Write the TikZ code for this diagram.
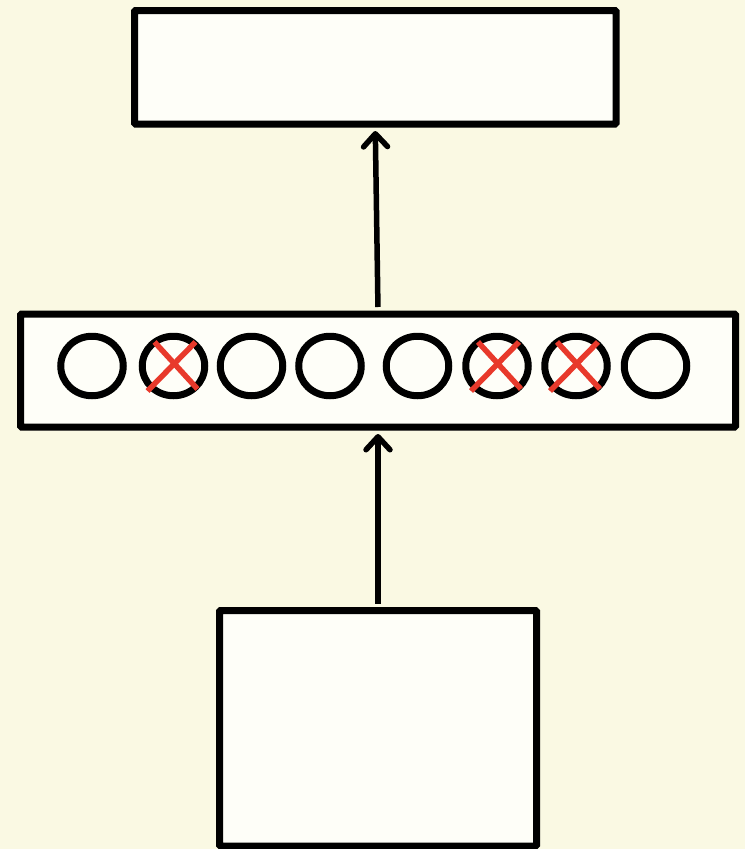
\documentclass[tikz,border=0pt]{standalone}
\usetikzlibrary{arrows.meta,shapes.geometric,shadows}
\definecolor{bgyellow}{HTML}{FAF9E3}
\definecolor{boxfill}{HTML}{FEFEF8}
\definecolor{xred}{HTML}{E8392B}
\begin{document}
\begin{tikzpicture}[x=1pt,y=-1pt,
  shade/.style={drop shadow={shadow xshift=1.5pt,shadow yshift=-3pt,opacity=0.3,fill=black!70}},
  box/.style={draw=black, line width=7pt, fill=boxfill, inner sep=0pt, rounded corners=1pt, shade},
  unit/.style={draw=black, line width=7pt, fill=boxfill, ellipse, minimum width=62.5pt, minimum height=59.5pt, inner sep=0pt, outer sep=0pt, shade},
  conn/.style={line width=5.5pt, -{Straight Barb[length=13pt,width=24pt,round]}, shorten <=3.5pt, shorten >=3.5pt},
  cross/.style={xred, line width=5.5pt}]
\fill[bgyellow] (0,0) rectangle (745,849);
\useasboundingbox (0,0) rectangle (745,849);
% boxes
\node[box, minimum width=481.5pt, minimum height=113.5pt] (top) at (375.25,67.25) {};
\node[box, minimum width=715pt, minimum height=113pt] (mid) at (378,370.5) {};
\node[box, minimum width=317pt, minimum height=235.5pt] (bot) at (378,728.25) {};
% units
\foreach \i/\x in {1/92,2/173.5,3/251.5,4/330,5/417.5,6/497,7/576,8/655.5}
  \node[unit] (u\i) at (\x,366) {};
% crosses
\foreach \i in {2,6,7}{
  \draw[cross] ([shift={(-26,25)}]u\i.center) -- ([shift={(22,-24)}]u\i.center);
  \draw[cross] ([shift={(-19,-24)}]u\i.center) -- ([shift={(24,23)}]u\i.center);
}
% connectors
\draw[conn] (mid.north) -- (top.south);
\draw[conn] (bot.north) -- (mid.south);
\end{tikzpicture}
\end{document}
